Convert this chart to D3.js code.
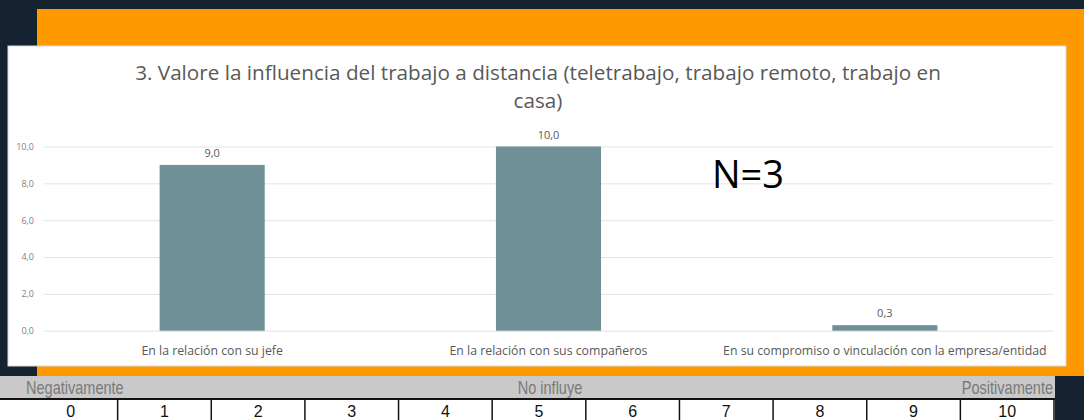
<!DOCTYPE html>
<html>
<head>
<meta charset="utf-8" />
<title>Valore la influencia del trabajo a distancia</title>
<style>
  body { margin: 0; background: #16222f; overflow: hidden; }
  text { font-family: "Open Sans", "Noto Sans", sans-serif; }
  .grid line { stroke: #e3e3e3; }
  .grid .domain { display: none; }
  .yaxis text { fill: #7f7f7f; font-size: 9px; }
  .xlab { fill: #595959; font-size: 12.3px; }
  .vlab { fill: #595959; font-size: 11px; }
  .title { fill: #595959; font-size: 20.7px; }
  .band text { font-family: "Liberation Sans", Arial, sans-serif; fill: #7a7a7a; font-size: 17.5px; }
  .cell text { font-family: "Liberation Sans", Arial, sans-serif; fill: #111; font-size: 16px; }
</style>
<script src="https://cdn.jsdelivr.net/npm/d3@7"></script>
</head>
<body>
<div id="graph"></div>
<script>
var categories = ["En la relación con su jefe", "En la relación con sus compañeros", "En su compromiso o vinculación con la empresa/entidad"];
var values = [9.0, 10.0, 0.3];
var yTicks = [0, 2, 4, 6, 8, 10];
var titleLines = ["3. Valore la influencia del trabajo a distancia (teletrabajo, trabajo remoto, trabajo en", "casa)"];
var scalePoints = ["0", "1", "2", "3", "4", "5", "6", "7", "8", "9", "10"];
var scaleAnchors = ["Negativamente", "No influye", "Positivamente"];

var w = 1084, h = 420;
var fmt = function (v) { return v.toFixed(1).replace(".", ","); };

var svg = d3.select("#graph").append("svg")
  .attr("width", w).attr("height", h);

// orange frame behind the chart card
svg.append("rect").attr("x", 37).attr("y", 9).attr("width", w - 37).attr("height", 367).attr("fill", "#fe9900");

// white chart card
svg.append("rect").attr("x", 8).attr("y", 46).attr("width", 1058).attr("height", 320)
  .attr("fill", "#fff").attr("stroke", "#d9d9d9");

svg.selectAll(".title").data(titleLines).enter().append("text")
  .attr("class", "title")
  .attr("x", 538).attr("y", function (d, i) { return 80 + i * 28; })
  .attr("text-anchor", "middle")
  .text(function (d) { return d; });

var x = d3.scaleBand().domain(categories).range([44, 1053])
  .paddingInner(0.6875).paddingOuter(0.34375);
var y = d3.scaleLinear().domain([0, 10]).range([330.7, 146.5]);

svg.append("g").attr("class", "grid")
  .attr("transform", "translate(44,0)")
  .call(d3.axisRight(y).tickValues(yTicks).tickSize(1009).tickFormat(""));

svg.append("g").attr("class", "yaxis")
  .attr("transform", "translate(37,0)")
  .call(d3.axisLeft(y).tickValues(yTicks).tickSize(0).tickFormat(fmt))
  .call(function (g) { g.select(".domain").remove(); });

svg.selectAll(".bar").data(values).enter().append("rect")
  .attr("class", "bar")
  .attr("x", function (d, i) { return x(categories[i]); })
  .attr("y", function (d) { return y(d); })
  .attr("width", x.bandwidth())
  .attr("height", function (d) { return y(0) - y(d); })
  .attr("fill", "#6f9097");

svg.selectAll(".vlab").data(values).enter().append("text")
  .attr("class", "vlab")
  .attr("x", function (d, i) { return x(categories[i]) + x.bandwidth() / 2; })
  .attr("y", function (d) { return y(d) - 8; })
  .attr("text-anchor", "middle")
  .text(fmt);

svg.selectAll(".xlab").data(categories).enter().append("text")
  .attr("class", "xlab")
  .attr("x", function (d) { return x(d) + x.bandwidth() / 2; })
  .attr("y", 355)
  .attr("text-anchor", "middle")
  .text(function (d) { return d; });

svg.append("text")
  .attr("x", 712).attr("y", 188)
  .attr("font-size", 38).attr("fill", "#000")
  .text("N=3");

// scale legend below the card
var band = svg.append("g").attr("class", "band");
band.append("rect").attr("x", 0).attr("y", 376).attr("width", 1055).attr("height", 22).attr("fill", "#c9c9c9");
band.selectAll("text").data(scaleAnchors).enter().append("text")
  .attr("transform", function (d, i) { return "translate(" + [26, 550, 1053][i] + ",394) scale(0.83,1)"; })
  .attr("text-anchor", function (d, i) { return ["start", "middle", "end"][i]; })
  .text(function (d) { return d; });

var sx = d3.scaleBand().domain(scalePoints).range([24, 1054]);
var cell = svg.append("g").attr("class", "cell");
cell.append("rect").attr("x", 0).attr("y", 398).attr("width", 1055).attr("height", 24).attr("fill", "#fff");
cell.append("line").attr("x1", 0).attr("x2", 1055).attr("y1", 399).attr("y2", 399).attr("stroke", "#111").attr("stroke-width", 2);
cell.selectAll("line.div").data(scalePoints.slice(1)).enter().append("line")
  .attr("class", "div")
  .attr("x1", function (d) { return sx(d); }).attr("x2", function (d) { return sx(d); })
  .attr("y1", 399).attr("y2", h)
  .attr("stroke", "#111").attr("stroke-width", 1.5);
cell.append("line").attr("x1", 1054).attr("x2", 1054).attr("y1", 399).attr("y2", h).attr("stroke", "#111").attr("stroke-width", 1.5);
cell.selectAll("text").data(scalePoints).enter().append("text")
  .attr("x", function (d) { return sx(d) + sx.bandwidth() / 2; })
  .attr("y", 417)
  .attr("text-anchor", "middle")
  .text(function (d) { return d; });
</script>
</body>
</html>
